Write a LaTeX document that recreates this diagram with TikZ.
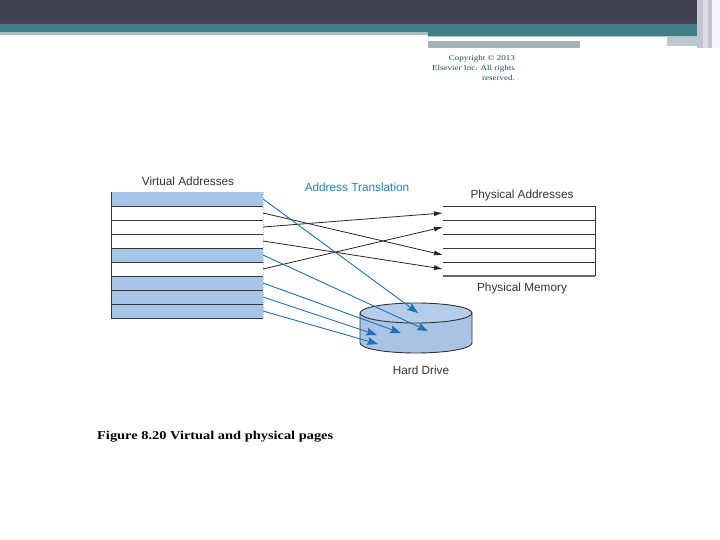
\documentclass[tikz,border=0pt]{standalone}
\usepackage{fontspec}
\setmainfont{Liberation Sans}
\newfontfamily\serifcap[FakeStretch=1.2]{Liberation Serif}
\usetikzlibrary{arrows.meta}
\definecolor{bandDark}{RGB}{64,66,82}
\definecolor{bandLine}{RGB}{78,62,86}
\definecolor{bandTeal}{RGB}{66,126,136}
\definecolor{bandLight}{RGB}{170,188,194}
\definecolor{bandGray}{RGB}{166,178,182}
\definecolor{bandSide}{RGB}{196,196,208}
\definecolor{rowblue}{RGB}{168,196,230}
\definecolor{hdblue}{RGB}{170,195,228}
\definecolor{arrowblue}{RGB}{28,114,178}
\definecolor{labelblue}{RGB}{34,128,196}
\definecolor{copyteal}{RGB}{30,78,82}
\definecolor{gridline}{RGB}{55,55,60}
\tikzset{
  vrow/.style={minimum width=152bp, minimum height=14bp, inner sep=0pt, outer sep=0pt, draw=none},
  prow/.style={minimum width=152bp, minimum height=14bp, inner sep=0pt, outer sep=0pt, draw=none},
  tline/.style={draw=gridline, line width=0.9bp},
  blackarrow/.style={draw=black!85, line width=0.8bp, -{Latex[length=9bp,width=5bp]}},
  bluearrow/.style={draw=arrowblue, line width=0.9bp, -{Stealth[length=11bp,width=8bp,inset=2bp]}},
  lbl/.style={font=\fontsize{11.8bp}{13bp}\selectfont, text=black!80, inner sep=0pt},
  hdline/.style={draw=black!80, line width=0.9bp}
}
\begin{document}
\begin{tikzpicture}[x=1bp,y=-1bp]
\useasboundingbox (0,0) rectangle (720,540);
\fill[white] (0,0) rectangle (720,540);
% top banner
\fill[bandDark] (0,0) rectangle (720,23);
\fill[bandLine] (0,22) rectangle (720,24);
\fill[bandTeal] (0,24) rectangle (720,33);
\fill[bandLight] (0,32) rectangle (428,35);
\fill[bandTeal] (428,32) rectangle (700,36);
\fill[bandGray!80] (428,36) rectangle (700,37.5);
\fill[white] (428,37.5) rectangle (667,41);
\fill[bandLight!80] (667,37.5) rectangle (700,46);
\fill[bandGray] (428,41) rectangle (580,48);
\fill[bandSide] (697,0) rectangle (720,48);
\fill[bandSide!60] (703,0) rectangle (708,48);
\fill[white!85!bandSide] (712,0) rectangle (720,48);
% copyright
\node[align=right, anchor=north east, inner sep=0pt, text=copyteal,
  font=\serifcap\fontsize{7.5bp}{10bp}\selectfont] (copy) at (515,55)
  {Copyright © 2013\\Elsevier Inc. All rights\\reserved.};
% virtual addresses
\node[vrow, fill=rowblue] (v1) at (187,199) {};
\node[vrow, fill=white]   (v2) at (187,213) {};
\node[vrow, fill=white]   (v3) at (187,227) {};
\node[vrow, fill=white]   (v4) at (187,241) {};
\node[vrow, fill=rowblue] (v5) at (187,255) {};
\node[vrow, fill=white]   (v6) at (187,269) {};
\node[vrow, fill=rowblue] (v7) at (187,283) {};
\node[vrow, fill=rowblue] (v8) at (187,297) {};
\node[vrow, fill=rowblue] (v9) at (187,311) {};
\foreach \r in {2,...,9} {\draw[tline] (v\r.north west) -- (v\r.north east);}
\draw[tline] (v9.south west) -- (v9.south east);
\draw[tline] (v1.north west) -- (v9.south west);
\draw[draw=black!25, line width=0.5bp, dotted] (v1.north east) -- (v9.south east);
\node[lbl] (vlabel) at (188,181) {Virtual Addresses};
% physical addresses
\node[prow] (p1) at (519,213) {};
\node[prow] (p2) at (519,227) {};
\node[prow] (p3) at (519,241) {};
\node[prow] (p4) at (519,255) {};
\node[prow] (p5) at (519,269) {};
\foreach \r in {1,...,5} {\draw[tline] (p\r.north west) -- (p\r.north east);}
\draw[draw=black!60, line width=1.4bp] (p5.south west) -- (p5.south east);
\draw[tline] (p1.north east) -- (p5.south east);
\node[lbl] (plabel) at (522,195) {Physical Addresses};
\node[lbl] (mlabel) at (522,288) {Physical Memory};
\node[lbl, text=labelblue] (tlabel) at (357,187) {Address Translation};
% hard drive
\path[fill=hdblue] (360,313) -- (360,343) arc[start angle=180,end angle=0,x radius=56,y radius=10]
  -- (472,313) arc[start angle=0,end angle=-180,x radius=56,y radius=10] -- cycle;
\fill[rowblue!85!white] (416,313) ellipse[x radius=56,y radius=10];
\draw[hdline] (360,313) -- (360,343) arc[start angle=180,end angle=0,x radius=56,y radius=10] -- (472,313);
\draw[hdline] (416,313) ellipse[x radius=56,y radius=10];
\node[lbl] (hdlabel) at (421,370) {Hard Drive};
\coordinate (h1) at (418,313);
\coordinate (h5) at (428,331);
\coordinate (h7) at (401,333);
\coordinate (h8) at (377,335);
\coordinate (h9) at (378,344);
% black arrows
\draw[blackarrow] (v2.east) -- (p4.west);
\draw[blackarrow] (v3.east) -- (p1.west);
\draw[blackarrow] (v4.east) -- (p5.west);
\draw[blackarrow] (v6.east) -- (p2.west);
% blue arrows
\draw[bluearrow] (v1.east) -- (h1);
\draw[bluearrow] (v5.east) -- (h5);
\draw[bluearrow] (v7.east) -- (h7);
\draw[bluearrow] (v8.east) -- (h8);
\draw[bluearrow] (v9.east) -- (h9);
% caption
\node[anchor=west, inner sep=0pt, font=\serifcap\bfseries\fontsize{12bp}{13bp}\selectfont] (caption) at (97,437)
  {Figure 8.20 Virtual and physical pages};
\end{tikzpicture}
\end{document}
